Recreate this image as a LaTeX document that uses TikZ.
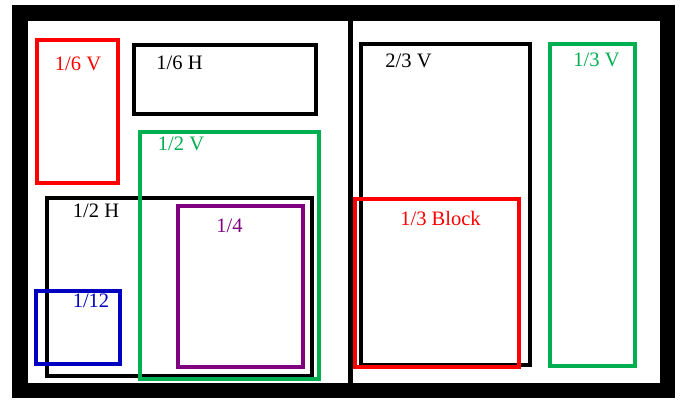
\documentclass[tikz,border=0pt]{standalone}
\usepackage{fontspec}
\setmainfont{Liberation Serif}
\definecolor{myred}{RGB}{255,0,0}
\definecolor{mygreen}{RGB}{0,176,80}
\definecolor{myblue}{RGB}{0,0,192}
\definecolor{mypurple}{RGB}{128,0,128}
\tikzset{
  box/.style={line width=4pt},
  lbl/.style={anchor=base, inner sep=0pt, font=\fontsize{20.5pt}{24pt}\selectfont},
}
\begin{document}
\begin{tikzpicture}[x=1pt,y=-1pt]
\useasboundingbox (0,0) rectangle (682,399);
% frame
\fill[black] (12,5) rectangle (675,398);
\fill[white] (28,21) rectangle (348,383);
\fill[white] (353,21) rectangle (660,383);
% black boxes
\draw[box,black] (133.5,45) rectangle (316,114);
\draw[box,black] (47,198) rectangle (312,376);
\draw[box,black] (361,43.5) rectangle (530,365);
% coloured boxes
\draw[box,myred] (36.5,40) rectangle (118,183);
\draw[box,mygreen] (139.5,132) rectangle (319,379);
\draw[box,mypurple] (178,206) rectangle (303,367);
\draw[box,myblue] (36,291) rectangle (119.5,364);
\draw[box,myred] (355,199) rectangle (519,366.5);
\draw[box,mygreen] (550,44) rectangle (635,366);
% labels
\node[lbl,myred] (l1) at (78,70) {1/6 V};
\node[lbl,black] (l2) at (179.5,69) {1/6 H};
\node[lbl,mygreen] (l3) at (181,150) {1/2 V};
\node[lbl,black] (l4) at (96,217) {1/2 H};
\node[lbl,mypurple] (l5) at (229.5,232) {1/4};
\node[lbl,myblue] (l6) at (91,307) {1/12};
\node[lbl,black] (l7) at (408.5,67) {2/3 V};
\node[lbl,myred] (l8) at (440.5,225) {1/3 Block};
\node[lbl,mygreen] (l9) at (596.5,66) {1/3 V};
\end{tikzpicture}
\end{document}
